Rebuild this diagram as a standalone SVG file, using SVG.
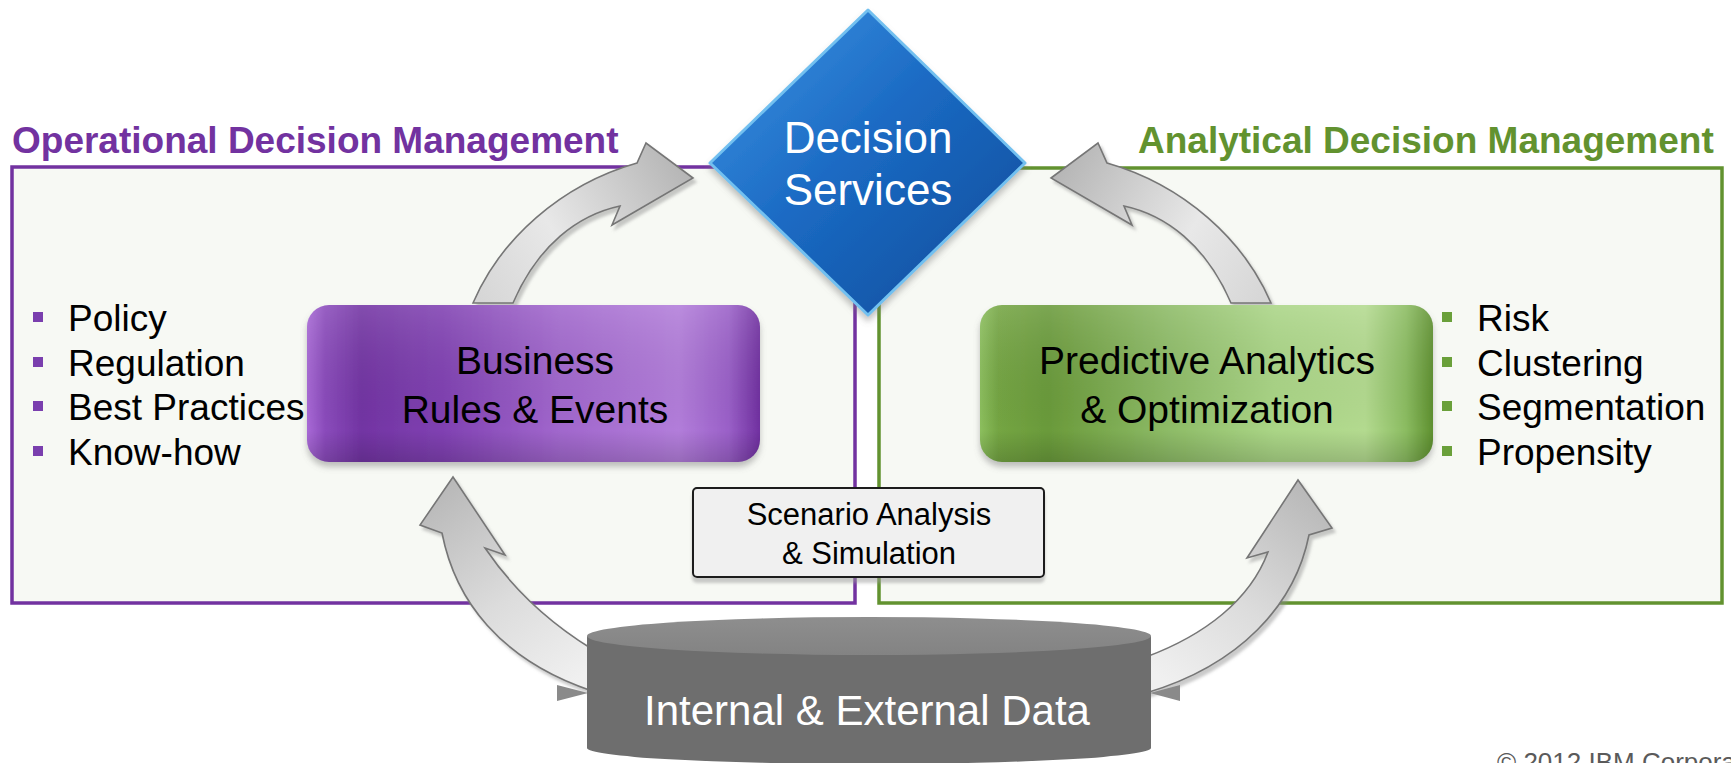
<svg xmlns="http://www.w3.org/2000/svg" width="1731" height="763" viewBox="0 0 1731 763">
<style>
.title{font-family:"Liberation Sans",Arial,sans-serif;font-weight:bold;font-size:37px}
.bul{font-family:"Liberation Sans",Arial,sans-serif;font-size:37px;fill:#000}
.lbl{font-family:"Liberation Sans",Arial,sans-serif;fill:#000;text-anchor:middle}
.wlbl{font-family:"Liberation Sans",Arial,sans-serif;fill:#fff;text-anchor:middle}
.arrow{stroke:#767676;stroke-width:1.6;stroke-linejoin:miter;filter:url(#arrowShadow)}
</style>
<defs>
<filter id="arrowShadow" x="-20%" y="-20%" width="150%" height="150%">
<feDropShadow dx="3" dy="4" stdDeviation="1.5" flood-color="#8a8a8a" flood-opacity="0.45"/>
</filter>
<filter id="boxShadow" x="-10%" y="-10%" width="120%" height="130%">
<feDropShadow dx="0" dy="5" stdDeviation="3" flood-color="#777" flood-opacity="0.45"/>
</filter>
<filter id="smallShadow" x="-10%" y="-10%" width="120%" height="140%">
<feDropShadow dx="0" dy="5" stdDeviation="1.5" flood-color="#999" flood-opacity="0.5"/>
</filter>
<linearGradient id="gPurple" x1="0" y1="0" x2="1" y2="0">
<stop offset="0" stop-color="#a869d6"/>
<stop offset="0.04" stop-color="#8a4bbb"/>
<stop offset="0.12" stop-color="#7234a3"/>
<stop offset="0.3" stop-color="#8041b2"/>
<stop offset="0.55" stop-color="#a066cc"/>
<stop offset="0.82" stop-color="#b27dda"/>
<stop offset="0.93" stop-color="#9a60c8"/>
<stop offset="1" stop-color="#7030a0"/>
</linearGradient>
<linearGradient id="gGreen" x1="0" y1="0" x2="1" y2="0">
<stop offset="0" stop-color="#8cbf5e"/>
<stop offset="0.04" stop-color="#74a543"/>
<stop offset="0.15" stop-color="#6a9a3a"/>
<stop offset="0.4" stop-color="#8bb964"/>
<stop offset="0.65" stop-color="#aad586"/>
<stop offset="0.85" stop-color="#b3da8f"/>
<stop offset="0.94" stop-color="#8bbc61"/>
<stop offset="1" stop-color="#5e902f"/>
</linearGradient>
<linearGradient id="gShade" x1="0" y1="0" x2="0" y2="1">
<stop offset="0" stop-color="#fff" stop-opacity="0.12"/>
<stop offset="0.8" stop-color="#000" stop-opacity="0"/>
<stop offset="1" stop-color="#000" stop-opacity="0.15"/>
</linearGradient>
<linearGradient id="gBlue" x1="0" y1="0" x2="1" y2="1">
<stop offset="0" stop-color="#3f95e4"/>
<stop offset="0.45" stop-color="#1c6bc4"/>
<stop offset="1" stop-color="#0a4a98"/>
</linearGradient>
<linearGradient id="gArrowTL" gradientUnits="userSpaceOnUse" x1="690" y1="170" x2="480" y2="300">
<stop offset="0" stop-color="#b4b4b4"/>
<stop offset="0.6" stop-color="#e8e8e8"/>
<stop offset="1" stop-color="#d6d6d6"/>
</linearGradient>
<linearGradient id="gArrowTR" gradientUnits="userSpaceOnUse" x1="1054" y1="170" x2="1264" y2="300">
<stop offset="0" stop-color="#b4b4b4"/>
<stop offset="0.6" stop-color="#e8e8e8"/>
<stop offset="1" stop-color="#d6d6d6"/>
</linearGradient>
<linearGradient id="gArrowBL" gradientUnits="userSpaceOnUse" x1="450" y1="480" x2="590" y2="670">
<stop offset="0" stop-color="#b8b8b8"/>
<stop offset="0.55" stop-color="#dcdcdc"/>
<stop offset="1" stop-color="#f0f0f0"/>
</linearGradient>
<linearGradient id="gArrowBR" gradientUnits="userSpaceOnUse" x1="1298" y1="480" x2="1150" y2="670">
<stop offset="0" stop-color="#b8b8b8"/>
<stop offset="0.55" stop-color="#dcdcdc"/>
<stop offset="1" stop-color="#f0f0f0"/>
</linearGradient>
<linearGradient id="gCylTop" x1="0" y1="0" x2="0" y2="1">
<stop offset="0" stop-color="#8e8e8e"/>
<stop offset="1" stop-color="#838383"/>
</linearGradient>
</defs>
<rect width="1731" height="763" fill="#fff"/>

<g id="operational-panel">
<rect x="12" y="167" width="843" height="436" fill="#f7f9f4" stroke="#7232a0" stroke-width="3.5"/>
<text class="title" x="12" y="153" fill="#7232a0">Operational Decision Management</text>
</g>
<g id="analytical-panel">
<rect x="879" y="168" width="843" height="435" fill="#f7f9f4" stroke="#62922f" stroke-width="3.5"/>
<text class="title" x="1138" y="153" fill="#62922f">Analytical Decision Management</text>
</g>

<g id="connectors">
<path class="arrow" fill="url(#gArrowTL)" d="M473,303 C500,240 560,185 637,163 L646,143 L693,178 L612,225 L620,206 C578,215 538,245 513,303 Z"/>
<path class="arrow" fill="url(#gArrowTR)" d="M1271,303 C1244,240 1184,185 1107,163 L1098,143 L1051,178 L1132,225 L1124,206 C1166,215 1206,245 1231,303 Z"/>
<path class="arrow" fill="url(#gArrowBL)" d="M592,691 C500,660 455,600 442,533 L420,525 L453,477 L505,555 L485,548 C510,585 545,620 592,649 Z"/>
<path class="arrow" fill="url(#gArrowBR)" d="M1146,693 C1240,665 1295,605 1309,535 L1332,528 L1298,480 L1247,558 L1268,552 C1250,600 1205,635 1146,657 Z"/>
<polygon points="557,685 557,701 588,693" fill="#8a8a8a"/>
<polygon points="1180,685 1180,701 1150,693" fill="#8a8a8a"/>
</g>

<g id="business-rules">
<rect x="307" y="305" width="453" height="157" rx="22" fill="url(#gPurple)" filter="url(#boxShadow)"/>
<rect x="307" y="305" width="453" height="157" rx="22" fill="url(#gShade)"/>
<text class="lbl" x="535" y="374" font-size="39">Business</text>
<text class="lbl" x="535" y="423" font-size="39">Rules &amp; Events</text>
</g>

<g id="predictive-analytics">
<rect x="980" y="305" width="453" height="157" rx="22" fill="url(#gGreen)" filter="url(#boxShadow)"/>
<rect x="980" y="305" width="453" height="157" rx="22" fill="url(#gShade)"/>
<text class="lbl" x="1207" y="374" font-size="39">Predictive Analytics</text>
<text class="lbl" x="1207" y="423" font-size="39">&amp; Optimization</text>
</g>

<g id="decision-services">
<polygon points="868,10 1025,163 868,315 710,163" fill="url(#gBlue)" stroke="#72c0f0" stroke-width="3" stroke-linejoin="round" filter="url(#boxShadow)"/>
<text class="wlbl" x="868" y="153" font-size="44">Decision</text>
<text class="wlbl" x="868" y="205" font-size="44">Services</text>
</g>

<g id="scenario-analysis">
<rect x="693" y="488" width="351" height="89" rx="4" fill="#f0f0f0" stroke="#1a1a1a" stroke-width="2" filter="url(#smallShadow)"/>
<text class="lbl" x="869" y="525" font-size="31">Scenario Analysis</text>
<text class="lbl" x="869" y="564" font-size="31">&amp; Simulation</text>
</g>

<g id="internal-external-data">
<path d="M587,636 L587,748 A282,16 0 0 0 1151,748 L1151,636 Z" fill="#6e6e6e"/>
<ellipse cx="869" cy="636" rx="282" ry="19" fill="url(#gCylTop)"/>
<text class="wlbl" x="867" y="725" font-size="42">Internal &amp; External Data</text>
</g>

<g id="left-bullets">
<rect x="33" y="312" width="10" height="10" fill="#7a3fae"/>
<rect x="33" y="357" width="10" height="10" fill="#7a3fae"/>
<rect x="33" y="401" width="10" height="10" fill="#7a3fae"/>
<rect x="33" y="446" width="10" height="10" fill="#7a3fae"/>
<text class="bul" x="68" y="331">Policy</text>
<text class="bul" x="68" y="376">Regulation</text>
<text class="bul" x="68" y="420">Best Practices</text>
<text class="bul" x="68" y="465">Know-how</text>
</g>

<g id="right-bullets">
<rect x="1442" y="312" width="10" height="10" fill="#6aa03a"/>
<rect x="1442" y="357" width="10" height="10" fill="#6aa03a"/>
<rect x="1442" y="401" width="10" height="10" fill="#6aa03a"/>
<rect x="1442" y="446" width="10" height="10" fill="#6aa03a"/>
<text class="bul" x="1477" y="331">Risk</text>
<text class="bul" x="1477" y="376">Clustering</text>
<text class="bul" x="1477" y="420">Segmentation</text>
<text class="bul" x="1477" y="465">Propensity</text>
</g>

<text x="1497" y="771" font-family="Liberation Sans, Arial, sans-serif" font-size="26" fill="#5a5a5a">© 2012 IBM Corporation</text>
</svg>
